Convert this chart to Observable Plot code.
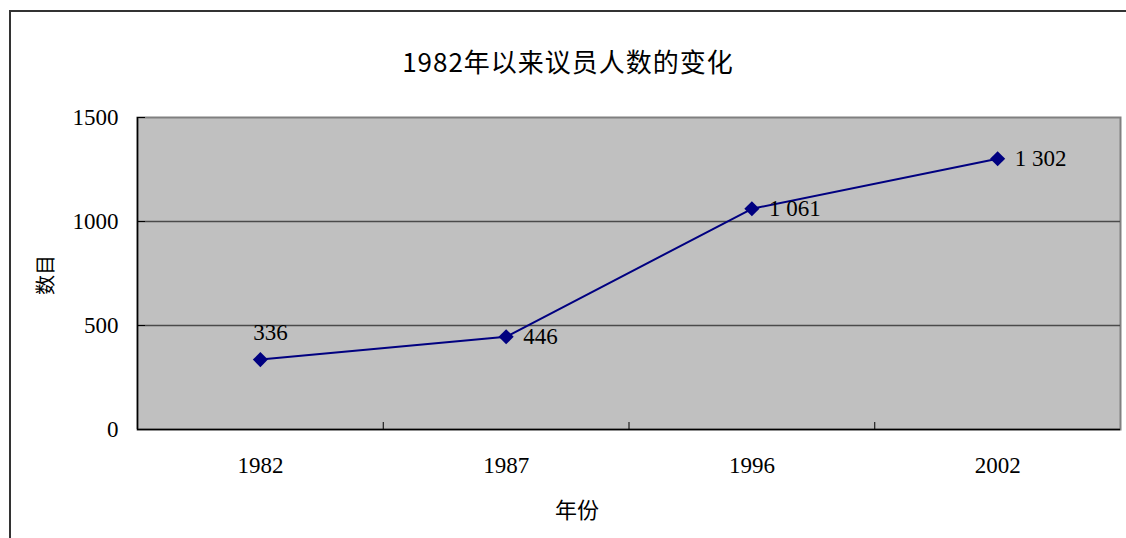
<!DOCTYPE html>
<html><head><meta charset="utf-8">
<script src="https://cdn.jsdelivr.net/npm/d3@7"></script>
<script src="https://cdn.jsdelivr.net/npm/@observablehq/plot@0.6"></script>
<style>
body{margin:0;background:#fff;}
#wrap{position:relative;width:1126px;height:538px;overflow:hidden;background:#fff;}
#border{position:absolute;left:9px;top:10px;width:1300px;height:700px;border:2px solid #333;box-sizing:border-box;}
#chart{position:absolute;left:0;top:0;}
.lbl{position:absolute;font-family:"Noto Sans CJK SC",sans-serif;color:#000;white-space:nowrap;}
#title{left:268px;width:600px;top:44px;text-align:center;font-size:26px;line-height:34px;letter-spacing:1px;}
#ylab{left:25px;top:260px;width:40px;height:30px;font-size:20px;line-height:30px;text-align:center;transform:rotate(-90deg);}
#xlab{left:527px;width:100px;top:493px;text-align:center;font-size:22px;line-height:30px;}
</style></head>
<body>
<div id="wrap">
  <div id="border"></div>
  <div id="chart"></div>
  <div class="lbl" id="title">1982年以来议员人数的变化</div>
  <div class="lbl" id="ylab">数目</div>
  <div class="lbl" id="xlab">年份</div>
</div>
<script>
const years = ["1982", "1987", "1996", "2002"];
const members = [336, 446, 1061, 1302];
const valueLabels = ["336", "446", "1 061", "1 302"];
const yTicks = [0, 500, 1000, 1500];
const gridValues = [500, 1000];

const data = years.map((y, i) => ({i, year: y, value: members[i], label: valueLabels[i]}));
const idx = d3.range(years.length);
const boundaries = d3.range(1, years.length).map(i => i - 0.5);

const chart = Plot.plot({
  width: 1126,
  height: 538,
  marginLeft: 137,
  marginRight: 6,
  marginTop: 117,
  marginBottom: 109,
  style: {background: "transparent", fontFamily: "'Liberation Serif', 'Times New Roman', serif", fontSize: "23px", color: "#000", overflow: "visible"},
  x: {type: "linear", domain: [-0.5, years.length - 0.5], axis: null, label: null},
  y: {domain: [0, 1500], axis: null, label: null},
  marks: [
    Plot.frame({fill: "#c0c0c0", stroke: "#808080", strokeWidth: 2}),
    Plot.ruleY(gridValues, {stroke: "#4a4a4a", strokeWidth: 1.3}),
    Plot.ruleY([0], {stroke: "#000", strokeWidth: 1.5}),
    Plot.ruleX([-0.5], {stroke: "#000", strokeWidth: 1.5}),
    Plot.axisY(yTicks, {tickSize: -8, tickPadding: 27, stroke: "#000", fontSize: 23, label: null, tickFormat: d => String(d)}),
    Plot.axisX(boundaries, {tickSize: -7, stroke: "#000", label: null, tickFormat: () => ""}),
    Plot.axisX(idx, {tickSize: 0, tickPadding: 27, fontSize: 23, label: null, tickFormat: i => years[i]}),
    Plot.line(data, {x: "i", y: "value", stroke: "#000080", strokeWidth: 2}),
    Plot.dot(data, {x: "i", y: "value", symbol: "diamond2", r: 6.8, fill: "#000080", stroke: null}),
    Plot.text(data.slice(0, 1), {x: "i", y: "value", text: "label", dx: 10, dy: -27, fontSize: 23, fill: "#000"}),
    Plot.text(data.slice(1), {x: "i", y: "value", text: "label", textAnchor: "start", dx: 17, fontSize: 23, fill: "#000"})
  ]
});
document.getElementById("chart").appendChild(chart);
</script>
</body></html>
